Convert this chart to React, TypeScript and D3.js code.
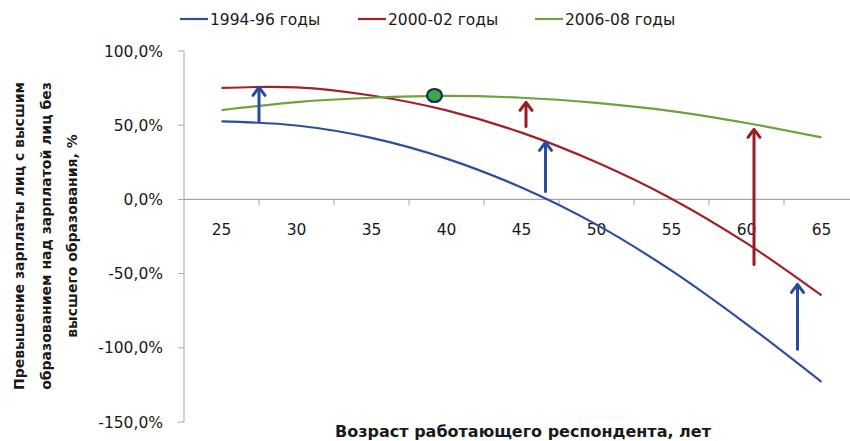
import React from "react";
import * as d3 from "d3";

const ages = [25, 30, 35, 40, 45, 50, 55, 60, 65];
const series1994 = [52.6, 49.8, 41.5, 27.5, 8, -17, -48, -84, -123];
const series2000 = [75.1, 75.5, 70, 60, 45, 25, 0.5, -29.5, -64.7];
const series2006 = [60.2, 65.6, 68.5, 69.7, 68.5, 65, 59.5, 51.5, 41.8];
const seriesNames = ["1994-96 годы", "2000-02 годы", "2006-08 годы"];
const seriesColors = ["#2F4E9E", "#A0222A", "#6FA23E"];
const yTicks = [100, 50, 0, -50, -100, -150];
const markerAge = [39.2];
const markerValue = [70];
// arrows: age, from value, to value, colour
const arrowAges = [27.5, 45.3, 46.6, 60.5, 63.4];
const arrowFrom = [52.6, 49.2, 5.4, -43.8, -101];
const arrowTo = [75.5, 65.4, 38.4, 47.2, -57.3];
const arrowColor = ["#2A4B9F", "#9B1B22", "#2A4B9F", "#9B1B22", "#2A4B9F"];

export default function App() {
  const x = d3.scaleLinear().domain([22.5, 67.5]).range([184, 859]);
  const y = d3.scaleLinear().domain([-150, 100]).range([422, 51]);
  const allSeries = [series1994, series2000, series2006];
  const line = d3
    .line<number>()
    .x((_, i) => x(ages[i]))
    .y((d) => y(d))
    .curve(d3.curveCatmullRom.alpha(0.5));
  const between = ages.slice(0, -1).map((a) => a + 2.5);
  const font = "'DejaVu Sans', Verdana, sans-serif";
  const axisColor = "#A6A6A6";
  const legendX = [180, 358, 535];

  return (
    <svg
      width={850}
      height={441}
      style={{ position: "absolute", left: 0, top: 0, background: "#fff" }}
      fontFamily={font}
    >
      {/* legend */}
      {seriesNames.map((n, i) => (
        <g key={n}>
          <line x1={legendX[i]} x2={legendX[i] + 28} y1={19} y2={19} stroke={seriesColors[i]} strokeWidth={2.2} />
          <text x={legendX[i] + 30} y={24.5} fontSize={15.5} fill="#1a1a1a">
            {n}
          </text>
        </g>
      ))}

      {/* y axis */}
      <line x1={184} x2={184} y1={y(100)} y2={y(-150)} stroke={axisColor} strokeWidth={1} />
      {yTicks.map((t) => (
        <g key={t}>
          <line x1={178} x2={184} y1={y(t)} y2={y(t)} stroke={axisColor} />
          <text x={163} y={y(t)} dy="0.36em" textAnchor="end" fontSize={15.5} fill="#1a1a1a">
            {d3.format(".1f")(t).replace(".", ",").replace("−", "-") + "%"}
          </text>
        </g>
      ))}

      {/* x axis at 0 */}
      <line x1={184} x2={850} y1={y(0)} y2={y(0)} stroke={axisColor} strokeWidth={1.2} />
      {between.map((b) => (
        <line key={b} x1={x(b)} x2={x(b)} y1={y(0)} y2={y(0) + 6} stroke={axisColor} />
      ))}
      {ages.map((a) => (
        <text key={a} x={x(a)} y={235} textAnchor="middle" fontSize={15.5} fill="#1a1a1a">
          {a}
        </text>
      ))}

      {/* series */}
      {allSeries.map((s, i) => (
        <path key={i} d={line(s) || ""} fill="none" stroke={seriesColors[i]} strokeWidth={2.2} />
      ))}

      {/* arrows */}
      {arrowAges.map((a, i) => {
        const ax = x(a);
        const y0 = y(arrowFrom[i]);
        const y1 = y(arrowTo[i]);
        return (
          <g key={i} stroke={arrowColor[i]} strokeWidth={3} fill="none" strokeLinecap="round" strokeLinejoin="round">
            <line x1={ax} x2={ax} y1={y0} y2={y1 + 1} />
            <polyline points={`${ax - 6},${y1 + 8} ${ax},${y1} ${ax + 6},${y1 + 8}`} />
          </g>
        );
      })}

      {/* marker */}
      {markerAge.map((a, i) => (
        <ellipse
          key={i}
          cx={x(a)}
          cy={y(markerValue[i])}
          rx={7.5}
          ry={6.5}
          fill="#3CA84A"
          stroke="#14285A"
          strokeWidth={2.2}
        />
      ))}

      {/* axis titles */}
      <text x={523} y={437} textAnchor="middle" fontSize={16} fontWeight="bold" fill="#1a1a1a">
        Возраст работающего респондента, лет
      </text>
      {[
        "Превышение зарплаты лиц с высшим",
        "образованием над зарплатой лиц без",
        "высшего образования, %",
      ].map((t, i) => (
        <text
          key={t}
          transform={`translate(${[19, 46, 72][i]},236) rotate(-90)`}
          dy="0.36em"
          textAnchor="middle"
          fontSize={14}
          fontWeight="bold"
          fill="#1a1a1a"
        >
          {t}
        </text>
      ))}
    </svg>
  );
}
